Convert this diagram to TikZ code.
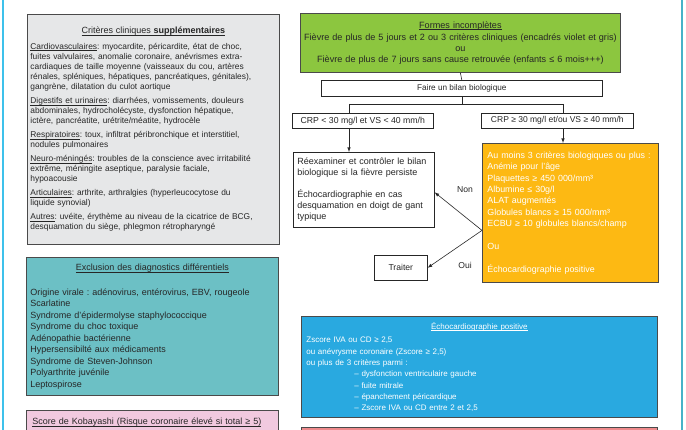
\documentclass[tikz,border=0pt]{standalone}
\usepackage{fontspec}
\setmainfont{Liberation Sans}
\usepackage{xcolor}
\usetikzlibrary{shapes,arrows,positioning}
\frenchspacing

\newcommand{\undl}[1]{\leavevmode\setbox0=\hbox{#1}\rlap{\rule[-1.6pt]{\wd0}{0.45pt}}\box0}

\definecolor{ink}{HTML}{262626}
\definecolor{edge}{HTML}{4A4A4A}
\definecolor{sidecyan}{HTML}{3EC1EB}
\definecolor{sideteal}{HTML}{46B2C8}
\definecolor{grayfill}{HTML}{E6E7E8}
\definecolor{tealfill}{HTML}{6CC0C5}
\definecolor{pinkfill}{HTML}{F1C9DF}
\definecolor{greenfill}{HTML}{8CC63F}
\definecolor{orangefill}{HTML}{FDB913}
\definecolor{bluefill}{HTML}{29A9E0}
\definecolor{salmonfill}{HTML}{EF8A8C}

\begin{document}
\begin{tikzpicture}[x=1pt, y=-1pt,
    box/.style={rectangle, draw=edge, line width=0.8pt, anchor=north west, inner xsep=4pt, inner ysep=0pt, text=ink},
    plain/.style={box, draw=ink, line width=0.6pt, fill=white, align=center},
    lbl/.style={text=ink, font=\fontsize{8.6}{10}\selectfont},
    link/.style={draw=ink, line width=0.6pt}]
    \useasboundingbox (0,0) rectangle (686,430);
    \clip (0,0) rectangle (686,430);
    \fill[white] (0,0) rectangle (686,430);
    \draw[sidecyan, line width=1.4pt] (3,0) -- (3,430);
    \draw[sideteal, line width=2.6pt] (682,0) -- (682,430);

    \node[box, fill=grayfill, minimum width=252, minimum height=230, inner xsep=3pt, text width=246, align=left,
          font=\fontsize{8.4}{10.2}\selectfont] (clin) at (27,14) {%
        \makebox[\linewidth]{\fontsize{9}{10}\selectfont\undl{Critères cliniques \textbf{supplémentaires}}}\\[5pt]
        \undl{Cardiovasculaires} : myocardite, péricardite, état de choc,\\
        fuites valvulaires, anomalie coronaire, anévrismes extra-\\
        cardiaques de taille moyenne (vaisseaux du cou, artères\\
        rénales, spléniques, hépatiques, pancréatiques, génitales),\\
        gangrène, dilatation du culot aortique\\[3.5pt]
        \undl{Digestifs et urinaires} : diarrhées, vomissements, douleurs\\
        abdominales, hydrocholécyste, dysfonction hépatique,\\
        ictère, pancréatite, urétrite/méatite, hydrocèle\\[3.5pt]
        \undl{Respiratoires} : toux, infiltrat péribronchique et interstitiel,\\
        nodules pulmonaires\\[3.5pt]
        \undl{Neuro-méningés} : troubles de la conscience avec irritabilité\\
        extrême, méningite aseptique, paralysie faciale,\\
        hypoacousie\\[3.5pt]
        \undl{Articulaires} : arthrite, arthralgies (hyperleucocytose du\\
        liquide synovial)\\[3.5pt]
        \undl{Autres} : uvéite, érythème au niveau de la cicatrice de BCG,\\
        desquamation du siège, phlegmon rétropharyngé};

    \node[box, fill=tealfill, minimum width=252, minimum height=138, text width=244, align=left,
          font=\fontsize{9}{11.5}\selectfont] (excl) at (26,257) {%
        \makebox[\linewidth]{\undl{Exclusion des diagnostics différentiels}}\\[13pt]
        Origine virale : adénovirus, entérovirus, EBV, rougeole\\
        Scarlatine\\
        Syndrome d’épidermolyse staphylococcique\\
        Syndrome du choc toxique\\
        Adénopathie bactérienne\\
        Hypersensibilté aux médicaments\\
        Syndrome de Steven-Johnson\\
        Polyarthrite juvénile\\
        Leptospirose};

    \node[box, fill=pinkfill, minimum width=252, minimum height=24, inner xsep=6pt, text width=240, align=left,
          font=\fontsize{9}{10}\selectfont] (koba) at (26,410)
        {\undl{Score de Kobayashi (Risque coronaire élevé si total ≥ 5)}};

    \node[box, fill=greenfill, minimum width=320, minimum height=59, inner xsep=2pt, text width=316, align=center,
          font=\fontsize{9.1}{10.8}\selectfont] (forms) at (300,13) {%
        \undl{Formes incomplètes}\\[2pt]
        Fièvre de plus de 5 jours et 2 ou 3 critères cliniques (encadrés violet et gris)\\
        ou\\
        Fièvre de plus de 7 jours sans cause retrouvée (enfants ≤ 6 mois+++)};

    \node[plain, minimum width=281, minimum height=16, font=\fontsize{8.2}{10}\selectfont] (bilan) at (321,80)
        {Faire un bilan biologique};
    \node[plain, minimum width=141, minimum height=15, inner xsep=2pt, font=\fontsize{8.7}{10}\selectfont] (crplow) at (292,113)
        {CRP < 30 mg/l et VS < 40 mm/h};
    \node[plain, minimum width=152, minimum height=15, inner xsep=2pt, font=\fontsize{8.5}{10}\selectfont] (crphigh) at (481,113)
        {CRP ≥ 30 mg/l et/ou VS ≥ 40 mm/h};

    \node[plain, minimum width=141, minimum height=75, text width=133, align=left,
          font=\fontsize{9}{10.9}\selectfont] (recheck) at (293,152) {%
        Réexaminer et contrôler le bilan\\
        biologique si la fièvre persiste\\[11pt]
        Échocardiographie en cas\\
        desquamation en doigt de gant\\
        typique};

    \node[box, fill=orangefill, draw=edge, text=white, minimum width=176, minimum height=139,
          inner xsep=5pt, text width=166, align=left, font=\fontsize{8.9}{11.4}\selectfont] (biol) at (482,143) {%
        Au moins 3 critères biologiques ou plus :\\
        Anémie pour l’âge\\
        Plaquettes ≥ 450 000/mm³\\
        Albumine ≤ 30g/l\\
        ALAT augmentés\\
        Globules blancs ≥ 15 000/mm³\\
        ECBU ≥ 10 globules blancs/champ\\[11.4pt]
        Ou\\[11.4pt]
        Échocardiographie positive};

    \node[plain, minimum width=53, minimum height=25, font=\fontsize{8.6}{10}\selectfont] (treat) at (374,255)
        {Traiter};

    \node[box, fill=bluefill, draw=edge, text=white, minimum width=356, minimum height=101,
          inner xsep=5pt, text width=346, align=left, font=\fontsize{8}{11.3}\selectfont] (echo) at (301,316) {%
        \makebox[\linewidth]{\undl{Échocardiographie positive}}\\[2.5pt]
        Zscore IVA ou CD ≥ 2,5\\
        ou anévrysme coronaire (Zscore ≥ 2,5)\\
        ou plus de 3 critères parmi :\\
        \hspace*{48pt}– dysfonction ventriculaire gauche\\
        \hspace*{48pt}– fuite mitrale\\
        \hspace*{48pt}– épanchement péricardique\\
        \hspace*{48pt}– Zscore IVA ou CD entre 2 et 2,5};

    \node[box, fill=salmonfill, minimum width=356, minimum height=15] (bottom) at (301,427) {};

    \node[lbl] (non) at (465,190) {Non};
    \node[lbl] (oui) at (465,265) {Oui};

    \coordinate (splitL) at (349,104);
    \coordinate (splitR) at (563,104);
    \coordinate (fork) at ([yshift=-17.5pt]biol.west);

    \draw[link] (forms.south) -- (bilan.north);
    \draw[link] (bilan.south) -- (bilan.south |- splitL);
    \draw[link] (splitL) -- (splitR);
    \draw[link] (splitL) -- (splitL |- crplow.north);
    \draw[link] (splitR) -- (splitR |- crphigh.north);
    \draw[link, -latex] (splitL |- crplow.south) -- (splitL |- recheck.north);
    \draw[link, -latex] (splitR |- crphigh.south) -- (splitR |- biol.north);
    \draw[link, -latex] (fork) -- ([yshift=-2.5pt]recheck.east);
    \draw[link, -latex] (fork) -- (treat.east);
\end{tikzpicture}
\end{document}
